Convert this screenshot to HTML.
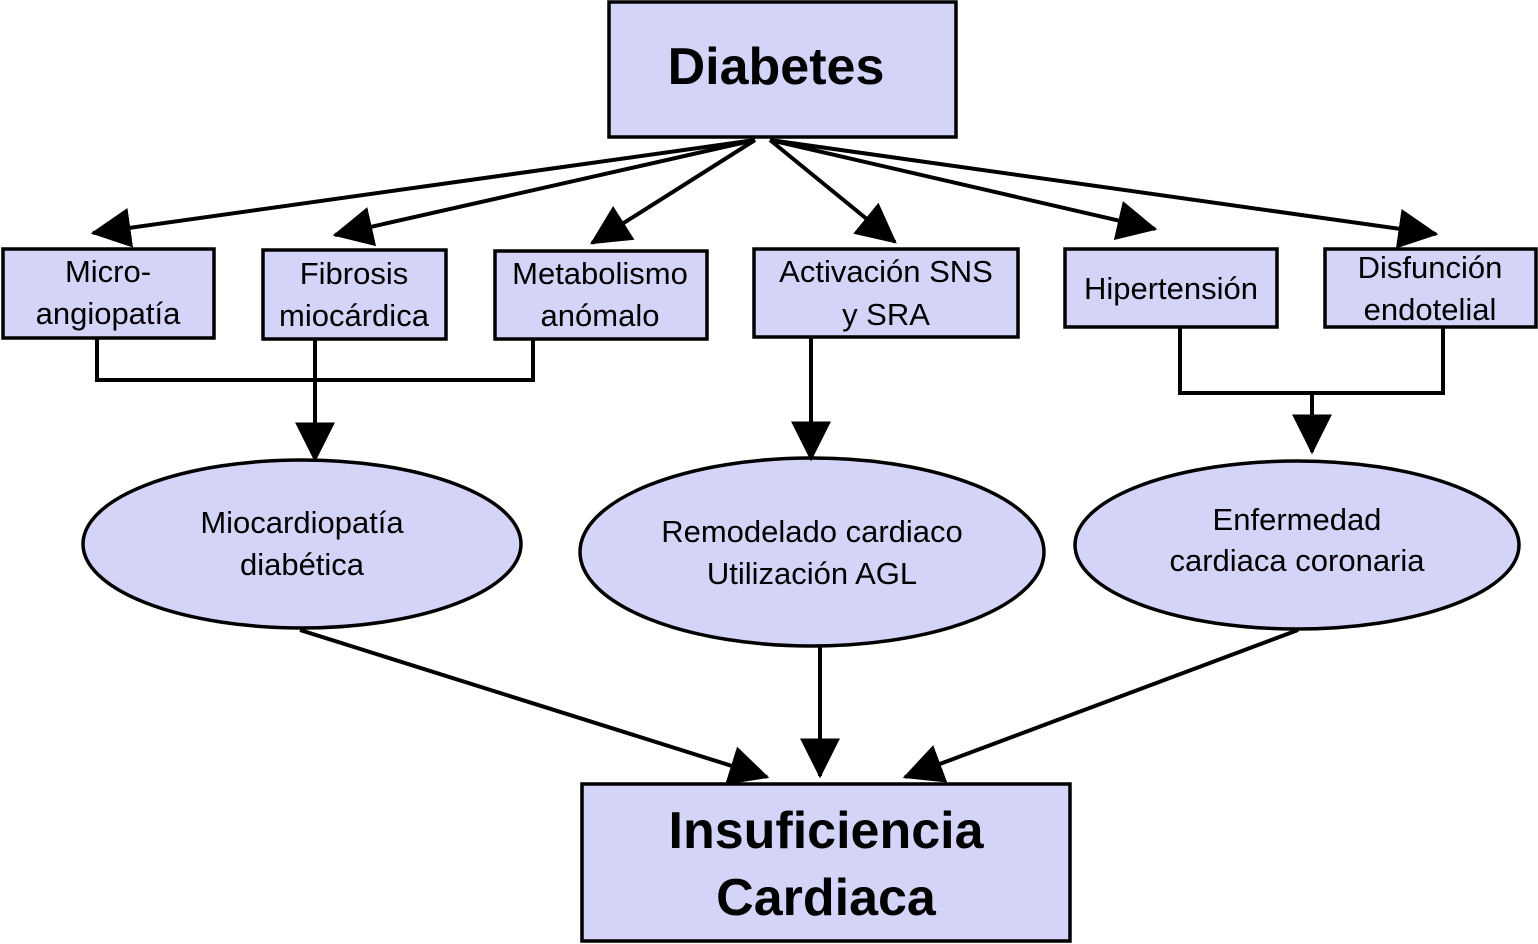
<!DOCTYPE html>
<html><head><meta charset="utf-8"><style>
html,body{margin:0;padding:0;background:#fff}
svg{display:block}
text{font-family:"Liberation Sans",sans-serif;fill:#000}
</style></head><body>
<svg width="1538" height="944" viewBox="0 0 1538 944" xmlns="http://www.w3.org/2000/svg">
<defs>
<marker id="a" markerUnits="userSpaceOnUse" markerWidth="40" markerHeight="40" viewBox="0 0 34 34" refX="32" refY="17" orient="auto">
<path d="M0,0 L34,17 L0,34 Z" fill="#000"/>
</marker>
</defs>
<g fill="#d4d4f8" stroke="#000" stroke-width="3.5">
<rect x="609" y="2" width="347" height="135"/>
<rect x="3" y="249" width="211" height="89"/>
<rect x="263" y="250" width="183" height="89"/>
<rect x="495" y="251" width="212" height="88"/>
<rect x="754" y="249" width="264" height="88"/>
<rect x="1065" y="249" width="212" height="78"/>
<rect x="1325" y="249" width="211" height="78"/>
<ellipse cx="302" cy="544" rx="219" ry="84"/>
<ellipse cx="812" cy="552" rx="232" ry="94"/>
<ellipse cx="1297" cy="545" rx="222" ry="84"/>
<rect x="582" y="784" width="488" height="157"/>
</g>
<g stroke="#000" stroke-width="4" fill="none" marker-end="url(#a)">
<line x1="755" y1="140" x2="93" y2="233"/>
<line x1="755" y1="140" x2="335" y2="235"/>
<line x1="755" y1="140" x2="592" y2="243"/>
<line x1="770" y1="140" x2="895" y2="242"/>
<line x1="770" y1="140" x2="1155" y2="229"/>
<line x1="770" y1="140" x2="1436" y2="234"/>
<line x1="315" y1="380" x2="315" y2="460"/>
<line x1="811" y1="337" x2="811" y2="459"/>
<line x1="1312" y1="393" x2="1312" y2="452"/>
<line x1="300" y1="630" x2="767" y2="777"/>
<line x1="820" y1="646" x2="820" y2="776"/>
<line x1="1298" y1="630" x2="905" y2="777"/>
</g>
<g stroke="#000" stroke-width="4" fill="none">
<polyline points="97,338 97,380 533,380 533,339"/>
<line x1="315" y1="339" x2="315" y2="380"/>
<polyline points="1180,327 1180,393 1443,393 1443,327"/>
</g>
<g font-size="31" text-anchor="middle">
<text x="108" y="282">Micro-</text>
<text x="108" y="324">angiopatía</text>
<text x="354" y="284">Fibrosis</text>
<text x="354" y="326">miocárdica</text>
<text x="600" y="284">Metabolismo</text>
<text x="600" y="326">anómalo</text>
<text x="886" y="282">Activación SNS</text>
<text x="886" y="325">y SRA</text>
<text x="1171" y="299">Hipertensión</text>
<text x="1430" y="278">Disfunción</text>
<text x="1430" y="320">endotelial</text>
<text x="302" y="533">Miocardiopatía</text>
<text x="302" y="575">diabética</text>
<text x="812" y="542">Remodelado cardiaco</text>
<text x="812" y="584">Utilización AGL</text>
<text x="1297" y="530">Enfermedad</text>
<text x="1297" y="571">cardiaca coronaria</text>
</g>
<g font-size="52" font-weight="bold" text-anchor="middle">
<text x="776" y="84">Diabetes</text>
<text x="826" y="848">Insuficiencia</text>
<text x="826" y="915">Cardiaca</text>
</g>
</svg>
</body></html>
